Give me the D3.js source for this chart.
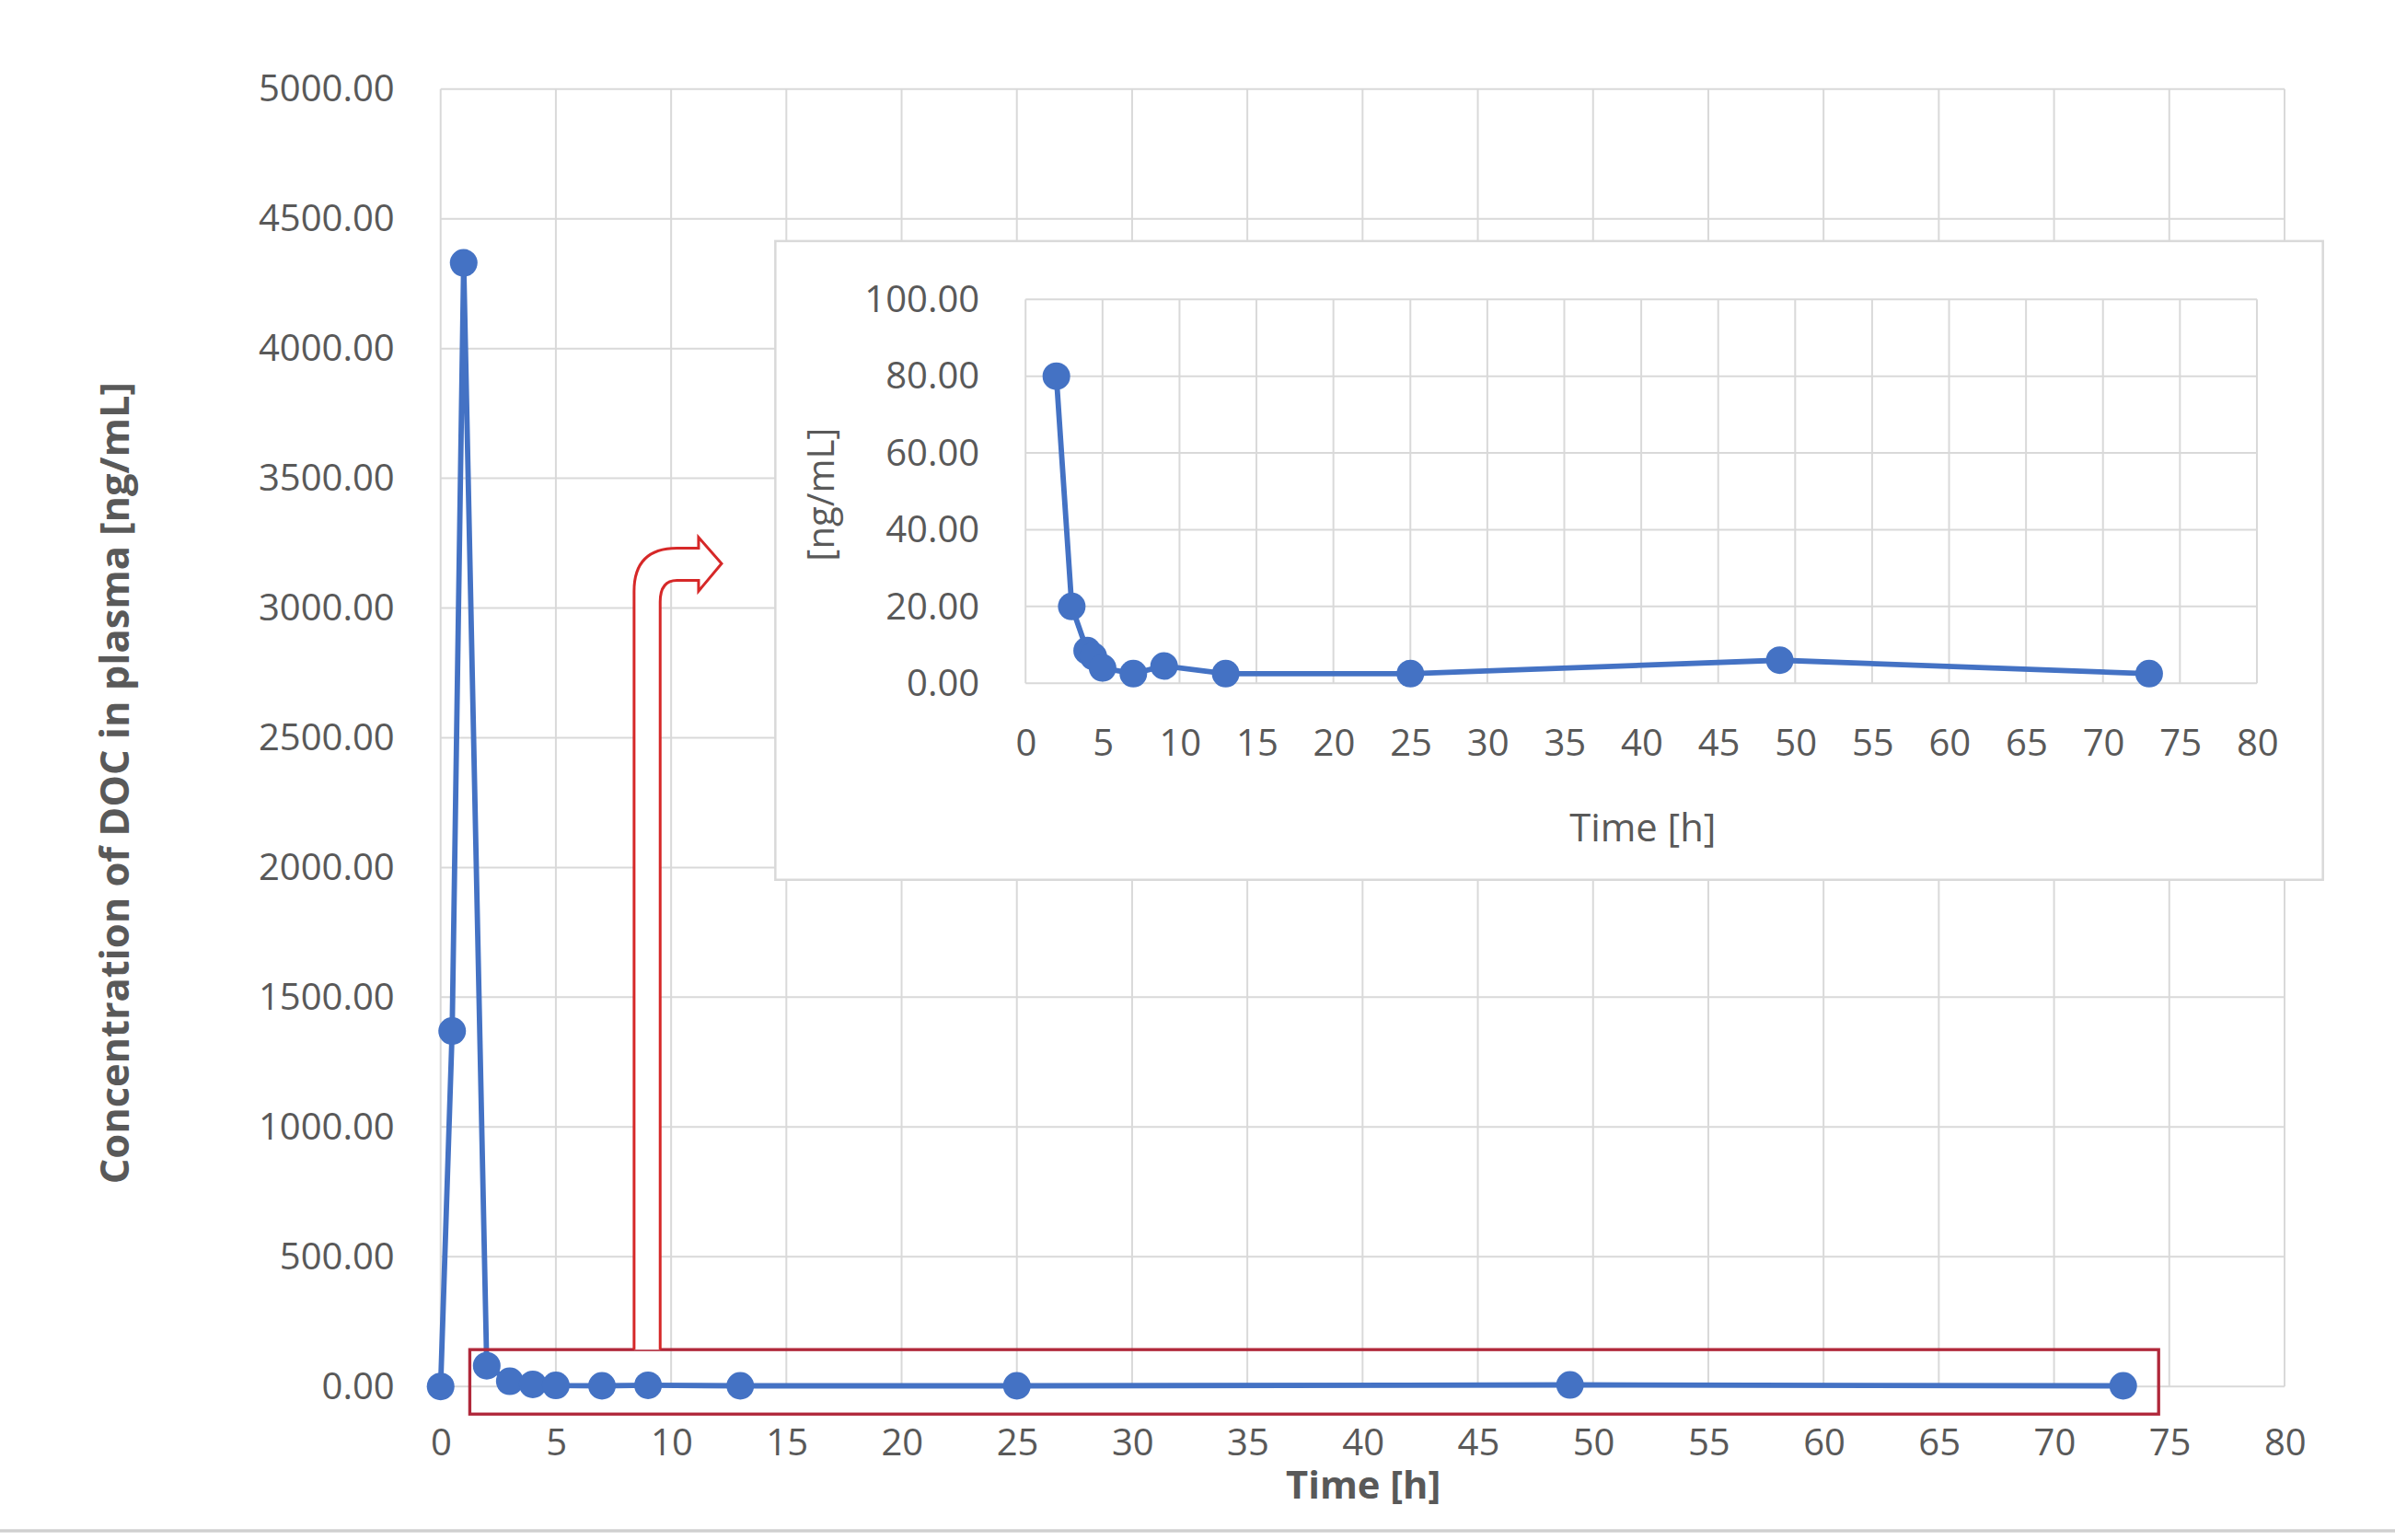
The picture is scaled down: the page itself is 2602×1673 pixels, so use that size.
<!DOCTYPE html><html><head><meta charset="utf-8">
<script src="https://cdn.jsdelivr.net/npm/d3@7"></script>
<style>body{margin:0;background:#fff}text{font-family:"Open Sans",sans-serif;fill:#595959}</style></head><body>
<svg id="c" width="2602" height="1673"></svg>
<script>
const mainTimes=[0,0.5,1,2,3,4,5,7,9,13,25,49,73];
const mainValues=[0,1370,4330,80,20,8,4,2.5,4.5,2.5,2.5,6,2.5];
const insetTimes=[2,3,4,4.4,5,7,9,13,25,49,73];
const insetValues=[80,20,8.5,7,4,2.5,4.5,2.5,2.5,6,2.5];
const xTicks=d3.range(0,81,5);
const mainYTicks=d3.range(0,5001,500);
const insetYTicks=d3.range(0,101,20);
const blue="#4472C4",grid="#d9d9d9";
const svg=d3.select("#c");
const g=svg.append("g").attr("transform","scale(1.668)");
g.append("line").attr("x1",0).attr("x2",1560).attr("y1",997).attr("y2",997).attr("stroke","#d0d0d0").attr("stroke-width",2);
function panel(p,times,vals,yT,yMax,box,fs,lw,r){
  const x=d3.scaleLinear([0,80],[box.x0,box.x1]);
  const y=d3.scaleLinear([0,yMax],[box.y0,box.y1]);
  xTicks.forEach(t=>p.append("line").attr("x1",x(t)).attr("x2",x(t)).attr("y1",y(0)).attr("y2",y(yMax)).attr("stroke",grid).attr("stroke-width",1.2));
  yT.forEach(t=>p.append("line").attr("x1",x(0)).attr("x2",x(80)).attr("y1",y(t)).attr("y2",y(t)).attr("stroke",grid).attr("stroke-width",1.2));
  const xa=p.append("g").attr("transform",`translate(0,${y(0)})`).call(d3.axisBottom(x).tickValues(xTicks).tickSize(0).tickPadding(box.xpad));
  const ya=p.append("g").attr("transform",`translate(${x(0)},0)`).call(d3.axisLeft(y).tickValues(yT).tickSize(0).tickPadding(box.ypad).tickFormat(d3.format(".2f")));
  [xa,ya].forEach(a=>{a.select(".domain").remove();a.selectAll("text").attr("font-size",fs).attr("fill","#595959").style("font-family","Open Sans");});
  p.append("path").datum(times.map((t,i)=>[t,vals[i]])).attr("fill","none").attr("stroke",blue).attr("stroke-width",lw)
   .attr("d",d3.line().x(d=>x(d[0])).y(d=>y(d[1])));
  p.selectAll("circle.m").data(times.map((t,i)=>[t,vals[i]])).join("circle").attr("cx",d=>x(d[0])).attr("cy",d=>y(d[1])).attr("r",r).attr("fill",blue);
  return {x,y};
}
panel(g,mainTimes,mainValues,mainYTicks,5000,{x0:287,x1:1488,y0:903,y1:58,xpad:28,ypad:30},24,3.5,9);
g.append("text").attr("transform","translate(84,510) rotate(-90)").attr("text-anchor","middle").attr("font-size",26).attr("font-weight","bold").text("Concentration of DOC in plasma  [ng/mL]");
g.append("text").attr("x",888).attr("y",976).attr("text-anchor","middle").attr("font-size",25).attr("font-weight","bold").text("Time [h]");
// red box & arrow
g.append("rect").attr("x",306).attr("y",879).attr("width",1100).attr("height",42).attr("fill","none").attr("stroke","#b0283a").attr("stroke-width",2);
g.append("path").attr("d","M413,879 L413,385 Q413,357 441,357 L455,357 L455,350 L470,367 L455,385 L455,378 L441,378 Q430,378 430,392 L430,879").attr("fill","#fff").attr("stroke","#d62828").attr("stroke-width",1.8);
// inset
const ig=g.append("g");
ig.append("rect").attr("x",505).attr("y",157).attr("width",1008).attr("height",416).attr("fill","#fff").attr("stroke","#d9d9d9").attr("stroke-width",1.5);
panel(ig,insetTimes,insetValues,insetYTicks,100,{x0:668,x1:1470,y0:445,y1:195,xpad:30,ypad:30},24,3.5,9);
ig.append("text").attr("transform","translate(543,322) rotate(-90)").attr("text-anchor","middle").attr("font-size",24).text("[ng/mL]");
ig.append("text").attr("x",1070).attr("y",548).attr("text-anchor","middle").attr("font-size",25).text("Time [h]");
</script></body></html>
